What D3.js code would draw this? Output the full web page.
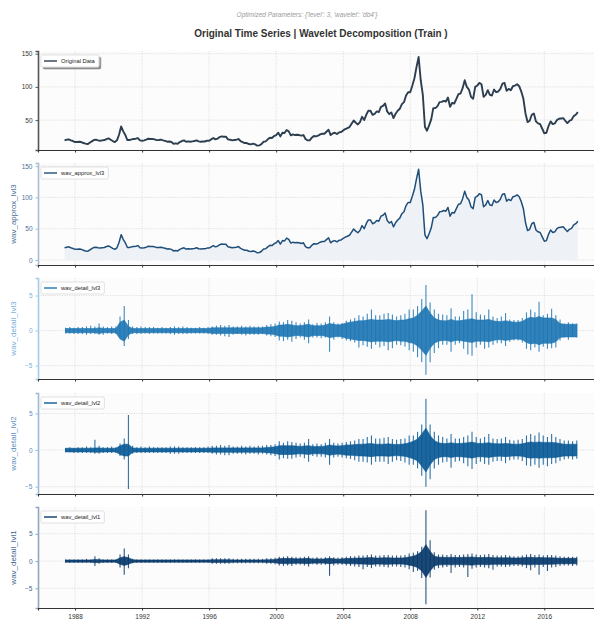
<!DOCTYPE html>
<html>
<head>
<meta charset="utf-8">
<script src="https://cdn.jsdelivr.net/npm/d3@7"></script>
<style>
    body { margin: 0; background: #ffffff; }
    svg text { font-family: "Liberation Sans", Arial, sans-serif; }
</style>
</head>
<body>
<div id="chart"></div>
<script>
// price series, 8 samples per year (year + k/8), starts 1987.375, ends 2018.0
const priceStart = 1987.375;
const priceValues = [
    19.5, 20.5, 21.0, 19.5, 18.5,
    17.0, 17.0, 17.5, 17.0, 15.5, 14.5, 13.8, 16.0,
    18.0, 20.0, 20.5, 19.5, 19.0, 19.5, 20.0, 21.5,
    22.5, 20.5, 18.5, 17.0, 19.5, 28.0, 40.5, 33.0,
    27.5, 20.0, 20.0, 21.0, 21.5, 22.0, 23.0, 19.5,
    19.0, 19.5, 20.5, 22.0, 21.5, 21.5, 21.0, 19.8,
    20.0, 20.5, 19.5, 18.8, 17.5, 17.8, 17.0, 14.5,
    15.0, 14.5, 17.0, 18.5, 19.5, 17.5, 18.0, 17.5,
    18.0, 18.5, 19.5, 18.0, 17.5, 17.8, 17.8, 19.0,
    19.0, 21.0, 23.0, 21.0, 22.0, 24.5, 25.5, 25.0,
    25.0, 21.0, 20.5, 19.5, 20.0, 20.5, 21.5, 18.5,
    17.0, 15.5, 15.5, 14.0, 13.5, 14.5, 13.5, 11.5,
    12.0, 14.0, 17.5, 18.0, 21.0, 23.5, 23.0, 26.0,
    27.5, 31.0, 25.5, 31.0, 30.5, 35.0, 33.0, 27.0,
    28.5, 27.5, 28.0, 27.5, 26.5, 27.5, 21.5, 19.5,
    19.5, 23.5, 26.0, 25.5, 26.5, 28.5, 29.5, 29.5,
    32.5, 35.5, 27.5, 30.0, 31.0, 29.0, 31.5, 32.0,
    34.5, 36.5, 38.0, 39.5, 44.5, 49.5, 46.0, 43.5,
    47.0, 55.0, 50.0, 58.0, 64.0, 64.0, 58.0, 59.5,
    63.0, 62.0, 70.0, 71.5, 75.0, 63.0, 59.0, 61.5,
    53.0, 59.5, 64.0, 67.0, 74.0, 77.0, 87.0, 92.0,
    92.0, 102.0, 113.0, 130.0, 145.0, 110.0, 88.0, 40.0,
    34.0, 42.0, 51.0, 68.0, 68.0, 71.0, 77.0, 77.5,
    79.0, 78.0, 84.0, 70.0, 76.0, 75.0, 82.0, 89.0,
    90.0, 98.0, 110.0, 100.0, 96.0, 85.0, 82.0, 100.0,
    102.0, 106.0, 104.0, 85.0, 88.0, 95.0, 88.0, 87.0,
    96.0, 92.0, 93.0, 97.0, 105.0, 106.0, 94.0, 97.0,
    95.0, 101.0, 102.0, 104.0, 101.0, 93.0, 82.0, 60.0,
    47.0, 49.0, 58.0, 60.0, 48.0, 45.0, 44.0, 37.0,
    30.0, 31.0, 41.0, 48.0, 44.0, 45.0, 50.0, 52.0,
    52.5, 53.0, 49.0, 45.5, 49.0, 50.5, 56.0, 58.0,
    62.0
];
// the level-3 approximation follows the price almost exactly at this size
const approxValues = priceValues;

// detail coefficients, per quarter bin (start 1987.375, step 0.25):
// Hi / Lo = largest up and down swing in the bin, Core = half width of the solid band
const detailStart = 1987.375;
const detail3Hi = [
    0.4, 0.5, 0.4,
    0.5, 0.5, 0.6, 0.7,   0.6, 1.0, 0.6, 0.5,   0.6, 0.6, 2.0, 3.5,   1.5, 0.6, 0.5, 0.6,
    0.5, 0.5, 0.5, 0.4,   0.5, 0.4, 0.5, 0.6,   0.5, 0.6, 0.5, 0.4,   0.4, 0.5, 0.4, 0.5,
    0.6, 0.7, 0.8, 0.7,   0.8, 0.6, 0.6, 0.7,   0.6, 0.7, 0.6, 0.6,   0.6, 0.8, 0.9, 1.0,
    1.3, 1.2, 1.5, 1.4,   1.2, 1.0, 1.2, 1.6,   0.9, 1.1, 1.0, 1.2,   2.0, 1.2, 1.0, 1.1,
    1.4, 1.6, 1.8, 2.2,   2.0, 2.4, 3.0, 2.2,   2.2, 2.4, 2.5, 2.3,   2.0, 2.2, 2.4, 3.0,
    3.0, 3.5, 4.5, 6.5,   4.0, 3.0, 2.4, 2.3,   2.2, 3.2, 2.0, 2.0,   2.8, 3.0, 5.2, 2.6,
    2.3, 2.2, 3.0, 2.0,   1.8, 2.0, 2.5, 1.6,   1.5, 1.5, 1.8, 2.6,   3.0, 2.6, 4.1, 2.2,
    2.4, 3.1, 2.2, 1.6,   1.0, 1.2, 1.0, 1.0
];
const detail3Lo = [
    -0.4, -0.4, -0.5,
    -0.5, -0.5, -0.6, -0.5,   -0.5, -0.6, -0.6, -0.4,   -0.5, -0.5, -1.0, -2.2,   -1.2, -0.5, -0.5, -0.5,
    -0.4, -0.5, -0.4, -0.4,   -0.4, -0.4, -0.5, -0.6,   -0.5, -0.5, -0.5, -0.4,   -0.4, -0.4, -0.4, -0.5,
    -0.6, -0.6, -0.7, -0.8,   -0.9, -0.6, -0.5, -0.6,   -0.7, -0.6, -0.6, -0.6,   -0.5, -0.7, -0.8, -0.9,
    -1.4, -1.5, -1.3, -1.6,   -1.2, -1.0, -1.3, -1.8,   -1.0, -1.0, -1.1, -1.0,   -3.0, -1.3, -1.0, -1.2,
    -1.4, -1.5, -1.7, -2.4,   -2.1, -2.3, -2.6, -2.0,   -2.4, -2.2, -2.8, -2.5,   -2.0, -2.1, -2.3, -2.8,
    -3.0, -3.8, -4.5, -6.3,   -4.5, -3.2, -2.5, -2.0,   -2.0, -3.0, -2.0, -1.8,   -2.6, -3.4, -3.6, -2.4,
    -2.0, -2.6, -2.4, -2.0,   -1.8, -1.8, -2.2, -1.6,   -1.4, -1.4, -1.7, -2.6,   -2.8, -2.4, -3.0, -2.3,
    -2.6, -2.5, -2.4, -1.4,   -1.0, -1.3, -0.9, -1.0
];
const detail3Core = [
    0.3, 0.3, 0.3,
    0.3, 0.3, 0.3, 0.3,   0.3, 0.4, 0.3, 0.3,   0.3, 0.3, 1.2, 1.5,   0.6, 0.3, 0.3, 0.3,
    0.3, 0.3, 0.3, 0.3,   0.3, 0.3, 0.3, 0.3,   0.3, 0.3, 0.3, 0.3,   0.3, 0.3, 0.3, 0.3,
    0.4, 0.4, 0.4, 0.4,   0.4, 0.4, 0.4, 0.4,   0.4, 0.4, 0.4, 0.4,   0.4, 0.5, 0.5, 0.6,
    0.8, 0.8, 0.9, 0.8,   0.7, 0.7, 0.8, 0.9,   0.7, 0.7, 0.7, 0.8,   1.0, 0.9, 0.8, 0.9,
    1.1, 1.2, 1.3, 1.4,   1.4, 1.5, 1.6, 1.5,   1.5, 1.5, 1.6, 1.5,   1.4, 1.5, 1.5, 1.7,
    1.8, 2.2, 2.8, 3.5,   2.5, 1.8, 1.5, 1.4,   1.4, 1.6, 1.4, 1.4,   1.5, 1.6, 1.7, 1.5,
    1.5, 1.5, 1.6, 1.4,   1.3, 1.3, 1.4, 1.3,   1.2, 1.2, 1.3, 1.7,   1.9, 1.8, 2.0, 1.8,
    1.8, 1.8, 1.6, 1.0,   0.9, 0.9, 0.9, 0.9
];
const detail2Hi = [
    0.3, 0.4, 0.3,
    0.4, 0.4, 0.5, 0.4,   1.4, 0.6, 0.4, 0.4,   0.5, 0.4, 0.9, 1.6,   4.8, 0.6, 0.4, 0.5,
    0.4, 0.5, 0.4, 0.4,   0.4, 0.4, 0.5, 0.5,   0.5, 0.4, 0.4, 0.4,   0.4, 0.4, 0.4, 0.5,
    0.6, 0.6, 0.7, 0.6,   0.7, 0.5, 0.5, 0.6,   0.5, 0.6, 0.5, 0.6,   0.6, 0.7, 0.7, 0.8,
    1.2, 1.0, 1.2, 1.1,   1.0, 0.9, 1.0, 1.5,   0.8, 0.9, 0.8, 1.0,   1.5, 1.0, 0.9, 1.0,
    1.1, 1.2, 1.3, 1.5,   1.5, 1.8, 2.0, 1.6,   1.6, 1.7, 1.8, 1.5,   1.4, 1.5, 1.6, 2.0,
    2.0, 2.5, 3.5, 7.0,   3.5, 2.5, 2.0, 1.8,   1.6, 2.2, 1.6, 1.6,   1.8, 2.0, 2.5, 1.8,
    1.6, 1.8, 2.2, 1.6,   1.5, 1.6, 1.8, 1.4,   1.3, 1.4, 1.5, 2.0,   2.2, 2.0, 2.4, 2.0,
    1.8, 2.2, 1.8, 1.5,   1.3, 1.3, 1.2, 1.3
];
const detail2Lo = [
    -0.3, -0.3, -0.4,
    -0.4, -0.4, -0.4, -0.4,   -0.5, -0.5, -0.4, -0.4,   -0.4, -0.4, -0.8, -1.3,   -5.3, -0.5, -0.4, -0.4,
    -0.4, -0.4, -0.4, -0.4,   -0.4, -0.4, -0.5, -0.5,   -0.5, -0.4, -0.4, -0.4,   -0.4, -0.4, -0.4, -0.4,
    -0.5, -0.6, -0.6, -0.7,   -0.7, -0.5, -0.5, -0.5,   -0.6, -0.5, -0.5, -0.6,   -0.5, -0.6, -0.7, -0.8,
    -1.3, -1.1, -1.2, -1.2,   -1.0, -0.9, -1.1, -1.6,   -0.8, -0.9, -0.9, -1.0,   -2.0, -1.0, -0.9, -1.0,
    -1.1, -1.2, -1.4, -1.6,   -1.6, -1.7, -2.0, -1.6,   -1.6, -1.6, -1.9, -1.6,   -1.4, -1.5, -1.7, -2.0,
    -2.0, -2.5, -3.5, -5.0,   -4.0, -2.5, -2.0, -1.7,   -1.6, -2.4, -1.6, -1.5,   -1.8, -2.2, -2.6, -1.9,
    -1.6, -1.9, -2.0, -1.6,   -1.5, -1.5, -1.8, -1.4,   -1.3, -1.3, -1.5, -2.1,   -2.2, -2.0, -2.4, -2.0,
    -2.2, -1.9, -1.8, -1.5,   -1.3, -1.2, -1.3, -1.2
];
const detail2Core = [
    0.25, 0.25, 0.25,
    0.25, 0.25, 0.25, 0.25,   0.3, 0.3, 0.25, 0.25,   0.25, 0.25, 0.6, 0.8,   0.8, 0.3, 0.25, 0.25,
    0.25, 0.25, 0.25, 0.25,   0.25, 0.25, 0.25, 0.25,   0.25, 0.25, 0.25, 0.25,   0.25, 0.25, 0.25, 0.25,
    0.3, 0.3, 0.3, 0.3,   0.3, 0.3, 0.3, 0.3,   0.3, 0.3, 0.3, 0.3,   0.3, 0.35, 0.4, 0.45,
    0.6, 0.6, 0.6, 0.6,   0.55, 0.5, 0.55, 0.6,   0.5, 0.5, 0.5, 0.55,   0.7, 0.6, 0.55, 0.6,
    0.7, 0.7, 0.75, 0.8,   0.8, 0.85, 0.9, 0.8,   0.8, 0.8, 0.85, 0.8,   0.75, 0.8, 0.85, 1.0,
    1.2, 1.5, 2.2, 3.0,   2.0, 1.3, 1.0, 0.9,   0.9, 1.0, 0.9, 0.9,   0.95, 1.0, 1.1, 0.95,
    0.9, 0.95, 1.0, 0.9,   0.85, 0.85, 0.9, 0.85,   0.8, 0.8, 0.85, 1.0,   1.1, 1.05, 1.1, 1.05,
    1.05, 1.05, 1.0, 0.9,   0.8, 0.8, 0.8, 0.8
];
const detail1Hi = [
    0.3, 0.3, 0.3,
    0.3, 0.3, 0.4, 0.3,   0.9, 0.5, 0.3, 0.3,   0.3, 0.3, 1.2, 2.3,   1.2, 0.4, 0.3, 0.3,
    0.3, 0.3, 0.3, 0.3,   0.3, 0.3, 0.3, 0.3,   0.3, 0.3, 0.3, 0.3,   0.3, 0.3, 0.3, 0.3,
    0.5, 0.5, 0.5, 0.5,   0.5, 0.4, 0.4, 0.4,   0.4, 0.4, 0.4, 0.4,   0.4, 0.5, 0.5, 0.6,
    0.8, 0.8, 0.9, 0.8,   0.7, 0.7, 0.8, 0.9,   0.6, 0.7, 0.6, 0.7,   0.9, 0.7, 0.6, 0.7,
    0.8, 0.9, 0.9, 1.0,   1.0, 1.1, 1.2, 1.0,   1.0, 1.1, 1.1, 1.0,   1.0, 1.0, 1.1, 1.4,
    1.5, 1.8, 2.6, 9.3,   3.8, 1.6, 1.2, 1.2,   1.1, 1.3, 1.1, 1.1,   1.2, 1.3, 1.4, 1.2,
    1.1, 1.2, 1.3, 1.1,   1.0, 1.0, 1.1, 1.0,   0.9, 0.9, 1.0, 1.2,   1.3, 1.1, 1.2, 1.0,
    1.1, 1.1, 1.0, 0.9,   0.8, 0.8, 0.8, 0.8
];
const detail1Lo = [
    -0.3, -0.3, -0.3,
    -0.3, -0.3, -0.3, -0.3,   -0.9, -0.5, -0.3, -0.3,   -0.3, -0.3, -1.2, -2.5,   -1.3, -0.4, -0.3, -0.3,
    -0.3, -0.3, -0.3, -0.3,   -0.3, -0.3, -0.3, -0.3,   -0.3, -0.3, -0.3, -0.3,   -0.3, -0.3, -0.3, -0.3,
    -0.5, -0.5, -0.5, -0.5,   -0.5, -0.4, -0.4, -0.4,   -0.4, -0.4, -0.4, -0.4,   -0.4, -0.5, -0.5, -0.6,
    -0.8, -0.9, -0.8, -0.9,   -0.7, -0.7, -0.8, -1.0,   -0.6, -0.7, -0.7, -0.7,   -2.7, -0.8, -0.7, -0.7,
    -0.8, -0.9, -1.0, -1.1,   -1.5, -1.1, -1.3, -1.0,   -1.0, -1.1, -1.2, -1.0,   -1.0, -1.1, -1.2, -1.5,
    -2.0, -1.8, -3.1, -7.9,   -3.0, -1.6, -1.3, -1.2,   -1.1, -2.2, -1.2, -1.1,   -1.2, -2.9, -1.4, -1.2,
    -1.1, -1.2, -1.3, -1.6,   -1.0, -1.0, -1.1, -1.0,   -0.9, -0.9, -1.0, -1.3,   -1.7, -1.2, -2.5, -1.1,
    -1.8, -1.2, -1.1, -0.9,   -0.8, -0.8, -0.9, -0.8
];
const detail1Core = [
    0.2, 0.2, 0.2,
    0.2, 0.2, 0.2, 0.2,   0.3, 0.25, 0.2, 0.2,   0.2, 0.2, 0.6, 0.8,   0.6, 0.25, 0.2, 0.2,
    0.2, 0.2, 0.2, 0.2,   0.2, 0.2, 0.2, 0.2,   0.2, 0.2, 0.2, 0.2,   0.2, 0.2, 0.2, 0.2,
    0.25, 0.25, 0.25, 0.25,   0.25, 0.2, 0.2, 0.2,   0.2, 0.2, 0.2, 0.2,   0.2, 0.25, 0.25, 0.3,
    0.45, 0.45, 0.5, 0.45,   0.4, 0.4, 0.45, 0.5,   0.35, 0.4, 0.35, 0.4,   0.5, 0.4, 0.35, 0.4,
    0.45, 0.5, 0.5, 0.55,   0.55, 0.6, 0.65, 0.55,   0.55, 0.6, 0.6, 0.55,   0.55, 0.55, 0.6, 0.75,
    0.9, 1.2, 1.8, 3.0,   1.8, 0.9, 0.7, 0.7,   0.65, 0.7, 0.65, 0.65,   0.7, 0.7, 0.75, 0.65,
    0.65, 0.65, 0.7, 0.6,   0.6, 0.6, 0.6, 0.6,   0.55, 0.55, 0.6, 0.65,   0.7, 0.6, 0.65, 0.6,
    0.6, 0.6, 0.55, 0.5,   0.5, 0.5, 0.5, 0.5
];

const xTickValues = [1988, 1992, 1996, 2000, 2004, 2008, 2012, 2016];

const suptitle = "Optimized Parameters: {'level': 3, 'wavelet': 'db4'}";
const title    = "Original Time Series | Wavelet Decomposition (Train )";

/////////////
/// Setup ///
/////////////

let width  = 594;
let height = 626;

let svg = d3.select("#chart")
    .append("svg")
    .attr("width", width)
    .attr("height", height);

svg.append("rect")
    .attr("width", width)
    .attr("height", height)
    .attr("fill", "#ffffff");

let x = d3.scaleLinear()
    .domain([1985.79, 2019.5])
    .range([38, 603]);

function toPoints(start, step, values) {
    return values.map((v, i) => ({t: start + i * step, v: v}));
}

function toBins(start, hi, lo, core) {
    return hi.map((h, i) => ({t: start + i * 0.25 + 0.06, hi: h, lo: lo[i], core: core[i]}));
}

let panels = [
    {name: "Original Data", top: 51, bottom: 150, domain: [5, 154], ticks: [50, 100, 150],
     data: toPoints(priceStart, 0.125, priceValues), color: "#2c3e50", width: 1.9,
     label: null, labelColor: "#333333", spine: "#555555", shadow: true},
    {name: "wav_approx_lvl3", top: 163, bottom: 265, domain: [-8, 155], ticks: [0, 50, 100, 150],
     data: toPoints(priceStart, 0.125, approxValues), color: "#1f4e79", width: 1.5, fill: "#eef1f6",
     label: "wav_approx_lvl3", labelColor: "#4a6f99", spine: "#a9bcd2"},
    {name: "wav_detail_lvl3", top: 278, bottom: 379, domain: [-6.9, 7.5], ticks: [-5, 0, 5],
     bins: toBins(detailStart, detail3Hi, detail3Lo, detail3Core), color: "#1f77b4",
     label: "wav_detail_lvl3", labelColor: "#79afdb", spine: "#a6cbe6"},
    {name: "wav_detail_lvl2", top: 393, bottom: 494, domain: [-6.0, 7.8], ticks: [-5, 0, 5],
     bins: toBins(detailStart, detail2Hi, detail2Lo, detail2Core), color: "#0b5a96",
     label: "wav_detail_lvl2", labelColor: "#5b8fbd", spine: "#9dbbd6"},
    {name: "wav_detail_lvl1", top: 507, bottom: 608, domain: [-8.6, 9.9], ticks: [-5, 0, 5],
     bins: toBins(detailStart, detail1Hi, detail1Lo, detail1Core), color: "#083a6b",
     label: "wav_detail_lvl1", labelColor: "#3e6690", spine: "#8ea6c0"}
];

//////////////
/// Titles ///
//////////////

svg.append("text")
    .attr("x", 307)
    .attr("y", 17)
    .attr("text-anchor", "middle")
    .attr("font-size", "6.5px")
    .attr("font-style", "italic")
    .attr("fill", "#9a9a9a")
    .text(suptitle);

svg.append("text")
    .attr("x", 321)
    .attr("y", 37)
    .attr("text-anchor", "middle")
    .attr("font-size", "10px")
    .attr("font-weight", "bold")
    .attr("fill", "#333333")
    .text(title);

let defs = svg.append("defs");
let shadow = defs.append("filter").attr("id", "shadow")
    .attr("x", "-20%").attr("y", "-20%").attr("width", "150%").attr("height", "160%");
shadow.append("feOffset").attr("in", "SourceAlpha").attr("dx", 1.5).attr("dy", 1.5).attr("result", "o");
shadow.append("feGaussianBlur").attr("in", "o").attr("stdDeviation", 0.6).attr("result", "b");
shadow.append("feComponentTransfer").attr("in", "b").attr("result", "s")
    .append("feFuncA").attr("type", "linear").attr("slope", 0.45);
let merge = shadow.append("feMerge");
merge.append("feMergeNode").attr("in", "s");
merge.append("feMergeNode").attr("in", "SourceGraphic");

//////////////
/// Panels ///
//////////////

panels.forEach((p, idx) => {
    let y = d3.scaleLinear().domain(p.domain).range([p.bottom, p.top]);
    let g = svg.append("g");

    defs.append("clipPath").attr("id", "clip" + idx)
        .append("rect")
        .attr("x", 38).attr("y", p.top)
        .attr("width", 565).attr("height", p.bottom - p.top);

    g.append("rect")
        .attr("x", 38).attr("y", p.top)
        .attr("width", 565).attr("height", p.bottom - p.top)
        .attr("fill", "#fcfcfc");

    // grid
    g.selectAll(".vgrid")
        .data(xTickValues)
        .enter().append("line")
        .attr("x1", d => x(d)).attr("x2", d => x(d))
        .attr("y1", p.top).attr("y2", p.bottom)
        .attr("stroke", "#d4d4d4").attr("stroke-width", 0.7)
        .attr("stroke-dasharray", "1.2,1.2");

    g.selectAll(".hgrid")
        .data(p.ticks)
        .enter().append("line")
        .attr("x1", 38).attr("x2", 603)
        .attr("y1", d => y(d)).attr("y2", d => y(d))
        .attr("stroke", "#d4d4d4").attr("stroke-width", 0.7)
        .attr("stroke-dasharray", "1.2,1.2");

    let plot = g.append("g").attr("clip-path", "url(#clip" + idx + ")");

    if (p.fill) {
        plot.append("path")
            .datum(p.data)
            .attr("fill", p.fill)
            .attr("d", d3.area().x(d => x(d.t)).y0(y(0)).y1(d => y(d.v)));
    }

    if (p.data) {
        plot.append("path")
            .datum(p.data)
            .attr("fill", "none")
            .attr("stroke", p.color)
            .attr("stroke-width", p.width)
            .attr("stroke-linejoin", "round")
            .attr("d", d3.line().x(d => x(d.t)).y(d => y(d.v)));
    }

    if (p.bins) {
        // solid band of the dense oscillation, then one bar per bin for the spikes
        plot.append("path")
            .datum(p.bins)
            .attr("fill", p.color)
            .attr("fill-opacity", 0.92)
            .attr("stroke", p.color)
            .attr("stroke-width", 0.6)
            .attr("d", d3.area().x(d => x(d.t)).y0(d => y(-d.core)).y1(d => y(d.core)));

        plot.selectAll(".swing")
            .data(p.bins)
            .enter().append("line")
            .attr("x1", d => x(d.t)).attr("x2", d => x(d.t))
            .attr("y1", d => y(d.lo)).attr("y2", d => y(d.hi))
            .attr("stroke", p.color)
            .attr("stroke-opacity", 0.85)
            .attr("stroke-width", 1.1);
    }

    // y axis
    let yAxis = g.append("g")
        .attr("transform", "translate(38,0)")
        .call(d3.axisLeft(y).tickValues(p.ticks).tickSize(2.5).tickPadding(3));
    yAxis.select(".domain").attr("stroke", p.spine).attr("stroke-width", 1.6);
    yAxis.selectAll(".tick line").attr("stroke", p.spine);
    yAxis.selectAll(".tick text")
        .attr("fill", p.labelColor)
        .attr("font-size", "6.5px")
        .attr("font-family", "Liberation Sans, Arial, sans-serif");

    // x axis
    let xAxis = g.append("g")
        .attr("transform", "translate(0," + p.bottom + ")")
        .call(d3.axisBottom(x).tickValues(xTickValues).tickSize(2.5).tickPadding(4)
            .tickFormat(idx === panels.length - 1 ? d3.format("d") : () => ""));
    xAxis.select(".domain").attr("stroke", "#333333").attr("stroke-width", 1.1);
    xAxis.selectAll(".tick line").attr("stroke", "#333333");
    xAxis.selectAll(".tick text")
        .attr("fill", "#333333")
        .attr("font-size", "6.5px")
        .attr("font-family", "Liberation Sans, Arial, sans-serif");

    // y label
    if (p.label) {
        svg.append("text")
            .attr("transform", "translate(16," + ((p.top + p.bottom) / 2) + ") rotate(-90)")
            .attr("text-anchor", "middle")
            .attr("font-size", "8px")
            .attr("fill", p.labelColor)
            .text(p.label);
    }

    // legend
    let leg = g.append("g").attr("transform", "translate(41," + (p.top + 4) + ")");
    let box = leg.append("rect")
        .attr("height", 12)
        .attr("rx", 1.5)
        .attr("fill", "#ffffff")
        .attr("stroke", "#cccccc")
        .attr("stroke-width", 0.6)
        .attr("filter", p.shadow ? "url(#shadow)" : null);
    leg.append("line")
        .attr("x1", 3).attr("x2", 16)
        .attr("y1", 6).attr("y2", 6)
        .attr("stroke", p.color)
        .attr("stroke-width", 1.4);
    let label = leg.append("text")
        .attr("x", 20).attr("y", 8.2)
        .attr("font-size", "5.8px")
        .attr("fill", "#222222")
        .text(p.name);
    box.attr("width", label.node().getComputedTextLength() + 24);
});
</script>
</body>
</html>
